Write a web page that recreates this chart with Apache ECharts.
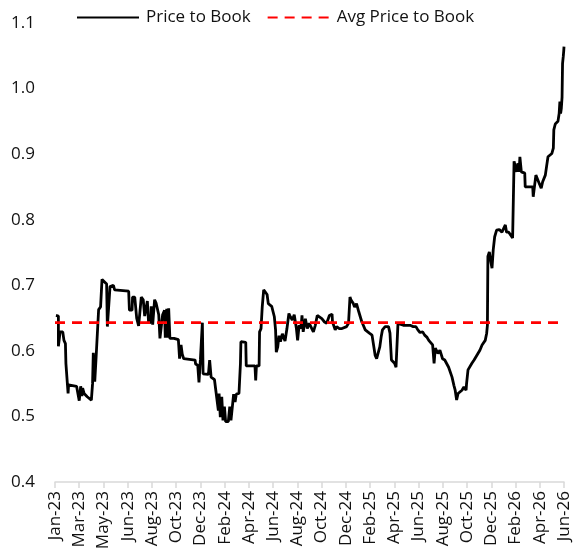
<!DOCTYPE html>
<html>

<head>
    <meta charset="utf-8">
    <script src="https://cdn.jsdelivr.net/npm/echarts@6/dist/echarts.min.js"></script>
    <style>
        * {
            padding: 0;
            margin: 0
        }

        body,
        html {
            height: 100%;
            width: 100%;
            background: #fff
        }

        #container {
            height: 557px;
            width: 573px
        }
    </style>
</head>

<body>
    <div id="container"></div>
</body>
<script>
    // tick labels on the date axis, evenly spaced
    const tickLabels = ['Jan-23', 'Mar-23', 'May-23', 'Jun-23', 'Aug-23', 'Oct-23', 'Dec-23', 'Feb-24',
        'Apr-24', 'Jun-24', 'Aug-24', 'Oct-24', 'Dec-24', 'Feb-25', 'Apr-25', 'Jun-25', 'Aug-25',
        'Oct-25', 'Dec-25', 'Feb-26', 'Apr-26', 'Jun-26'];

    // average price to book
    const avgPriceToBook = 0.643;

    // [position in tick units, price to book]
    const priceToBook = [
        [0.04, 0.654], [0.14, 0.653], [0.14, 0.607], [0.21, 0.629], [0.32, 0.629], [0.37, 0.616],
        [0.43, 0.611], [0.45, 0.581], [0.51, 0.580], [0.54, 0.535], [0.56, 0.548], [0.89, 0.546],
        [1.00, 0.524], [1.06, 0.546], [1.11, 0.531], [1.14, 0.543], [1.20, 0.535], [1.33, 0.530],
        [1.50, 0.525], [1.55, 0.550], [1.58, 0.597], [1.64, 0.553], [1.69, 0.586], [1.80, 0.663],
        [1.88, 0.667], [1.94, 0.709], [2.02, 0.707], [2.13, 0.702], [2.16, 0.637], [2.24, 0.637],
        [2.27, 0.698], [2.41, 0.700], [2.46, 0.693], [3.04, 0.691], [3.07, 0.662], [3.18, 0.662],
        [3.20, 0.682], [3.29, 0.682], [3.37, 0.650], [3.45, 0.638], [3.53, 0.638], [3.56, 0.682],
        [3.64, 0.678], [3.70, 0.653], [3.78, 0.653], [3.81, 0.676], [3.86, 0.644], [3.95, 0.643],
        [3.97, 0.668], [4.03, 0.640], [4.11, 0.678], [4.17, 0.673], [4.28, 0.655], [4.33, 0.619],
        [4.39, 0.619], [4.44, 0.655], [4.52, 0.662], [4.55, 0.620], [4.61, 0.664], [4.63, 0.620],
        [4.69, 0.665], [4.74, 0.619], [4.91, 0.619], [5.09, 0.617], [5.14, 0.588], [5.20, 0.609],
        [5.25, 0.595], [5.31, 0.588], [5.78, 0.586], [5.80, 0.580], [5.89, 0.578], [5.94, 0.552],
        [6.00, 0.587], [6.05, 0.586], [6.08, 0.643], [6.11, 0.565], [6.33, 0.564], [6.38, 0.586],
        [6.44, 0.560], [6.58, 0.556], [6.63, 0.541], [6.71, 0.540], [6.74, 0.509], [6.77, 0.535],
        [6.82, 0.499], [6.88, 0.530], [6.93, 0.494], [6.99, 0.515], [7.04, 0.492], [7.15, 0.492],
        [7.21, 0.515], [7.26, 0.494], [7.32, 0.494], [7.37, 0.534], [7.43, 0.522], [7.48, 0.534],
        [7.59, 0.535], [7.65, 0.580], [7.67, 0.614], [7.87, 0.613], [7.89, 0.577], [8.25, 0.577],
        [8.28, 0.555], [8.31, 0.577], [8.42, 0.577], [8.44, 0.629], [8.50, 0.634], [8.55, 0.667],
        [8.61, 0.693], [8.69, 0.692], [8.75, 0.686], [8.80, 0.672], [8.94, 0.668], [9.05, 0.652],
        [9.10, 0.632], [9.13, 0.598], [9.19, 0.606], [9.24, 0.623], [9.30, 0.614], [9.38, 0.626],
        [9.49, 0.615], [9.57, 0.634], [9.65, 0.657], [9.71, 0.652], [9.79, 0.647], [9.87, 0.655],
        [9.96, 0.634], [10.01, 0.616], [10.07, 0.639], [10.15, 0.634], [10.19, 0.654], [10.24, 0.629],
        [10.33, 0.649], [10.41, 0.634], [10.49, 0.642], [10.57, 0.639], [10.66, 0.629], [10.74, 0.639],
        [10.82, 0.654], [10.90, 0.652], [11.01, 0.649], [11.12, 0.644], [11.21, 0.642], [11.32, 0.654],
        [11.43, 0.656], [11.45, 0.644], [11.51, 0.642], [11.56, 0.632], [11.62, 0.637], [11.73, 0.634],
        [11.84, 0.634], [12.03, 0.637], [12.11, 0.642], [12.17, 0.682], [12.22, 0.677], [12.31, 0.672],
        [12.36, 0.667], [12.44, 0.672], [12.53, 0.660], [12.58, 0.657], [12.66, 0.644], [12.72, 0.639],
        [12.80, 0.632], [12.86, 0.629], [12.97, 0.627], [13.08, 0.624], [13.16, 0.622], [13.21, 0.593],
        [13.27, 0.588], [13.35, 0.590], [13.40, 0.606], [13.46, 0.622], [13.51, 0.632], [13.62, 0.637],
        [13.76, 0.637], [13.82, 0.627], [13.88, 0.586], [13.96, 0.584], [14.01, 0.581], [14.07, 0.575],
        [14.12, 0.576], [14.15, 0.642], [14.18, 0.645], [14.23, 0.641], [14.37, 0.639], [14.65, 0.639],
        [14.78, 0.637], [14.89, 0.637], [14.97, 0.632], [15.06, 0.628], [15.17, 0.629], [15.25, 0.624],
        [15.34, 0.621], [15.42, 0.616], [15.50, 0.614], [15.58, 0.609], [15.64, 0.581], [15.69, 0.604],
        [15.75, 0.601], [15.80, 0.596], [15.88, 0.601], [15.94, 0.598], [15.99, 0.588], [16.08, 0.586],
        [16.16, 0.583], [16.24, 0.575], [16.32, 0.573], [16.38, 0.560], [16.46, 0.547], [16.51, 0.540],
        [16.57, 0.525], [16.63, 0.535], [16.71, 0.537], [16.79, 0.540], [16.87, 0.545], [16.96, 0.540],
        [16.98, 0.550], [17.04, 0.571], [17.12, 0.573], [17.20, 0.581], [17.29, 0.586], [17.37, 0.591],
        [17.45, 0.596], [17.53, 0.601], [17.62, 0.609], [17.70, 0.611], [17.75, 0.616], [17.81, 0.627],
        [17.84, 0.639], [17.86, 0.744], [17.92, 0.751], [17.97, 0.738], [18.03, 0.726], [18.08, 0.754],
        [18.14, 0.774], [18.22, 0.784], [18.33, 0.785], [18.44, 0.781], [18.52, 0.781], [18.58, 0.792],
        [18.63, 0.781], [18.72, 0.781], [18.80, 0.779], [18.88, 0.772], [18.94, 0.889], [18.99, 0.881],
        [19.04, 0.873], [19.10, 0.886], [19.15, 0.873], [19.18, 0.896], [19.24, 0.873], [19.32, 0.876],
        [19.38, 0.871], [19.40, 0.850], [19.51, 0.850], [19.71, 0.850], [19.73, 0.835], [19.78, 0.850],
        [19.84, 0.868], [19.90, 0.871], [19.95, 0.858], [20.01, 0.855], [20.06, 0.848], [20.12, 0.858],
        [20.17, 0.855], [20.23, 0.868], [20.28, 0.881], [20.34, 0.896], [20.42, 0.898], [20.50, 0.901],
        [20.56, 0.909], [20.58, 0.937], [20.64, 0.946], [20.75, 0.950], [20.80, 0.962], [20.83, 0.980],
        [20.86, 0.962], [20.89, 0.970], [20.92, 0.987], [20.94, 1.038], [20.97, 1.049], [20.99, 1.058],
        [21.00, 1.064]
    ];

    const font = '"Open Sans", "Noto Sans", sans-serif';

    const container = document.getElementById('container');
    let myChart = echarts.init(container, null, { renderer: 'canvas' });

    const option = {
        animation: false,
        backgroundColor: '#fff',
        textStyle: { fontFamily: font },
        legend: {
            left: 71,
            top: 4,
            itemWidth: 62,
            itemHeight: 3,
            itemGap: 16,
            // hide the marker in the middle of the legend line
            itemStyle: { opacity: 0 },
            textStyle: { fontSize: 17, color: '#111', fontFamily: font, padding: [0, 0, 0, 2] },
            data: ['Price to Book', 'Avg Price to Book']
        },
        grid: { left: 55, right: 9, top: 23, bottom: 75, containLabel: false },
        xAxis: {
            type: 'value',
            min: 0,
            max: tickLabels.length - 1,
            interval: 1,
            splitLine: { show: false },
            axisLine: { show: true, lineStyle: { color: '#d9d9d9', width: 1.5 } },
            axisTick: { show: true, length: 6, lineStyle: { color: '#d9d9d9', width: 1.5 } },
            axisLabel: {
                rotate: 90,
                margin: 9,
                fontSize: 17,
                color: '#111',
                fontFamily: font,
                formatter: v => tickLabels[Math.round(v)] || ''
            }
        },
        yAxis: {
            type: 'value',
            min: 0.4,
            max: 1.1,
            interval: 0.1,
            splitLine: { show: false },
            axisLine: { show: false },
            axisTick: { show: false },
            axisLabel: {
                margin: 20,
                fontSize: 17,
                color: '#111',
                fontFamily: font,
                formatter: v => v.toFixed(1)
            }
        },
        series: [
            {
                name: 'Price to Book',
                type: 'line',
                symbol: 'none',
                data: priceToBook,
                lineStyle: { color: '#000', width: 2.8 },
                itemStyle: { color: '#000' },
                z: 3
            },
            {
                name: 'Avg Price to Book',
                type: 'line',
                symbol: 'none',
                data: [[0, avgPriceToBook], [tickLabels.length - 1, avgPriceToBook]],
                lineStyle: { color: '#ff0000', width: 2.8, type: [10, 7] },
                itemStyle: { color: '#ff0000' },
                z: 4
            }
        ]
    };

    myChart.setOption(option);
</script>

</html>
